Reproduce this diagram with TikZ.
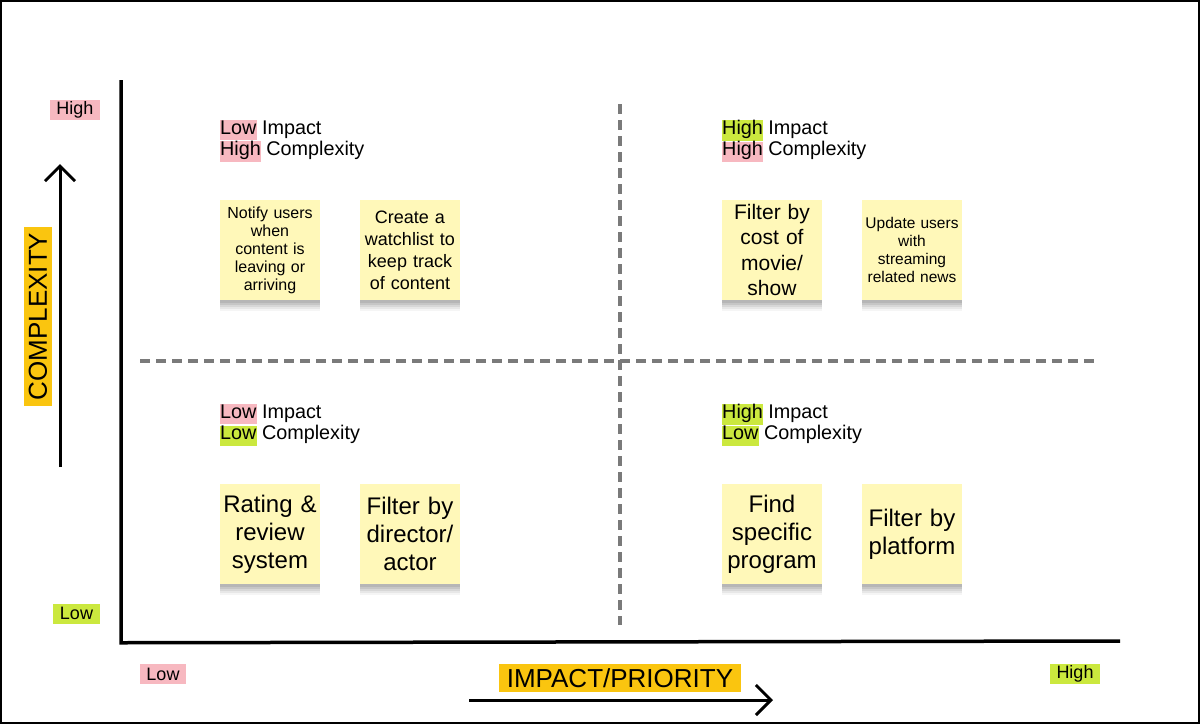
\documentclass[tikz,border=0pt]{standalone}
\usepackage{fontspec}
\setmainfont{Liberation Sans}
\usetikzlibrary{arrows.meta,shadows}
\definecolor{pinkhl}{HTML}{F7B8C0}
\definecolor{greenhl}{HTML}{CBE83E}
\definecolor{axisyellow}{HTML}{FAC50F}
\definecolor{stickyyellow}{HTML}{FFF8B9}
\definecolor{dashgray}{HTML}{7A7A7A}
\newcommand\hlbox[2]{{\setlength{\fboxsep}{0pt}\colorbox{#1}{\strut #2}}}
\tikzset{
  axisline/.style={line width=3.5pt},
  dashline/.style={line width=3.5pt, dashgray, dash pattern=on 10pt off 6pt},
  bigarrow/.style={line width=3pt, -{Straight Barb[length=15pt,width=30pt,line width=3pt]}},
  endlabel/.style={inner xsep=6.5pt, inner ysep=0pt, minimum height=20pt, font=\fontsize{18}{20}\selectfont},
  axistitle/.style={fill=axisyellow, inner sep=0pt, minimum height=28pt, font=\fontsize{26}{28}\selectfont},
  qlabel/.style={align=left, inner sep=0pt, anchor=north west, font=\fontsize{19.8}{20}\selectfont},
  sticky/.style={fill=stickyyellow, minimum width=100pt, minimum height=100pt, text width=98pt,
    inner sep=1pt, align=center,
    drop shadow={shadow xshift=0pt, shadow yshift=-11pt, opacity=0.04, fill=black},
    drop shadow={shadow xshift=0pt, shadow yshift=-9pt, opacity=0.06, fill=black},
    drop shadow={shadow xshift=0pt, shadow yshift=-7pt, opacity=0.07, fill=black},
    drop shadow={shadow xshift=0pt, shadow yshift=-5pt, opacity=0.08, fill=black},
    drop shadow={shadow xshift=0pt, shadow yshift=-3pt, opacity=0.08, fill=black}},
  smalltxt/.style={font=\fontsize{16}{18}\selectfont},
  smallertxt/.style={font=\fontsize{15.5}{18}\selectfont},
  midtxt/.style={font=\fontsize{18}{22}\selectfont},
  largetxt/.style={font=\fontsize{21}{25.3}\selectfont},
  hugetxt/.style={font=\fontsize{24}{28}\selectfont},
}
\begin{document}
\begin{tikzpicture}[x=1pt, y=-1pt]
\useasboundingbox (0,0) rectangle (1200,724);
\draw[line width=2pt] (1,1) rectangle (1199,723);

% axes
\coordinate (ytop) at (121,80);
\coordinate (origin) at (121,641);
\coordinate (xend) at (1120,641);
\draw[axisline] (ytop) -- (121,642.75) -- (xend);

% dashed quadrant dividers
\coordinate (vtop) at (620,104);
\coordinate (vbot) at (620,625);
\coordinate (hleft) at (140,361);
\coordinate (hright) at (1100,361);
\draw[dashline] (vtop) -- (vbot);
\draw[dashline] (hleft) -- (hright);

% axis direction arrows
\coordinate (cstart) at (60,467);
\coordinate (cend) at (60,164);
\draw[bigarrow] (cstart) -- (cend);
\coordinate (istart) at (469,700);
\coordinate (iend) at (773,700);
\draw[bigarrow] (istart) -- (iend);

% axis titles
\node[axistitle, minimum width=179pt, rotate=90] (ctitle) at (38,316.5) {COMPLEXITY};
\node[axistitle, minimum width=242pt] (ititle) at (620,678) {IMPACT/PRIORITY};

% end labels
\node[endlabel, fill=pinkhl] (yhigh) at (75,110) {High};
\node[endlabel, fill=greenhl] (ylow) at (76.5,613.5) {Low};
\node[endlabel, fill=pinkhl] (xlow) at (163,674) {Low};
\node[endlabel, fill=greenhl] (xhigh) at (1075,674) {High};

% quadrant labels
\node[qlabel] (qtl) at (220,120) {\hlbox{pinkhl}{Low} Impact\\\hlbox{pinkhl}{High} Complexity};
\node[qlabel] (qtr) at (722,120) {\hlbox{greenhl}{High} Impact\\\hlbox{pinkhl}{High} Complexity};
\node[qlabel] (qbl) at (220,404) {\hlbox{pinkhl}{Low} Impact\\\hlbox{greenhl}{Low} Complexity};
\node[qlabel] (qbr) at (722,404) {\hlbox{greenhl}{High} Impact\\\hlbox{greenhl}{Low} Complexity};

% sticky notes
\node[sticky, smalltxt] (n1) at (270,250) {Notify users\\when\\content is\\leaving or\\arriving};
\node[sticky, midtxt] (n2) at (410,250) {Create a\\watchlist to\\keep track\\of content};
\node[sticky, largetxt] (n3) at (772,250) {Filter by\\cost of\\movie/\\show};
\node[sticky, smallertxt] (n4) at (912,250) {Update users\\with\\streaming\\related news};
\node[sticky, hugetxt] (n5) at (270,534) {Rating \&\\review\\system};
\node[sticky, hugetxt] (n6) at (410,534) {Filter by\\director/\\actor};
\node[sticky, hugetxt] (n7) at (772,534) {Find\\specific\\program};
\node[sticky, hugetxt] (n8) at (912,534) {Filter by\\platform};
\end{tikzpicture}
\end{document}
